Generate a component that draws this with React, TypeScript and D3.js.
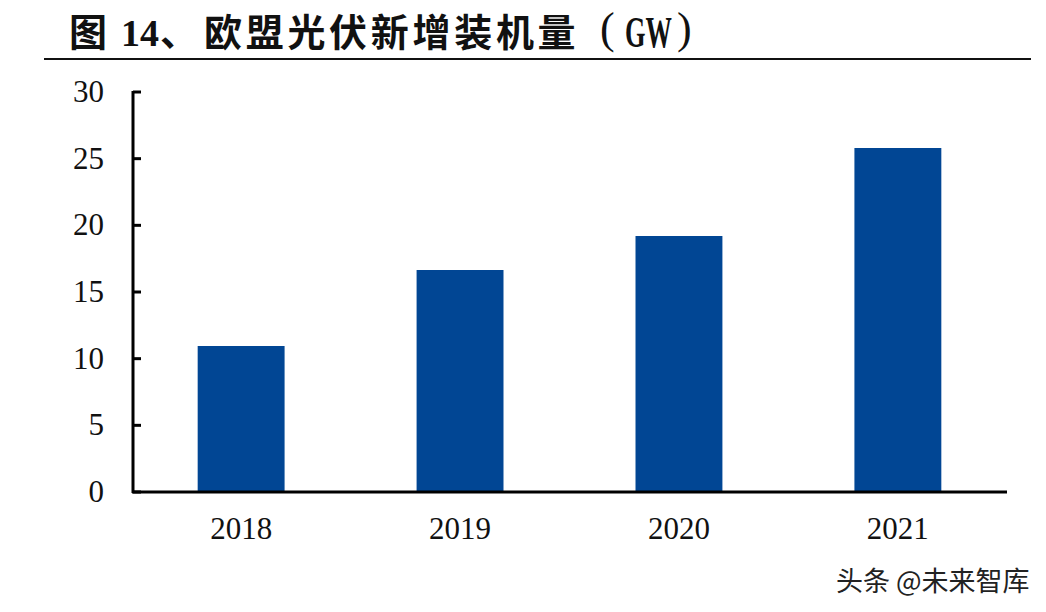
import * as d3 from 'd3';

const years = ['2018', '2019', '2020', '2021'];
const installs = [10.95, 16.65, 19.2, 25.8];
const yTicks = [0, 5, 10, 15, 20, 25, 30];

const WIDTH = 1046;
const HEIGHT = 612;
const margin = { top: 92, right: 39, bottom: 120, left: 132 };

const x = d3.scaleBand<string>()
  .domain(years)
  .range([margin.left, WIDTH - margin.right])
  .paddingInner(0.603)
  .paddingOuter(0.3);

const y = d3.scaleLinear()
  .domain([0, 30])
  .range([HEIGHT - margin.bottom, margin.top]);

const serif = '"Liberation Serif", serif';
const cjk = '"Noto Sans CJK SC", sans-serif';

export default function App() {
  return (
    <svg
      width={WIDTH}
      height={HEIGHT}
      style={{ position: 'absolute', left: 0, top: 0, background: '#fff' }}
    >
      <text x={69} y={46} fontFamily={cjk} fontWeight={700} fontSize={38} fill="#111">图</text>
      <text x={121} y={46} fontFamily={serif} fontWeight={700} fontSize={38} fill="#111">14</text>
      <text x={160} y={46} fontFamily={cjk} fontWeight={700} fontSize={38} fill="#111">、</text>
      <text x={204} y={46} fontFamily={cjk} fontWeight={700} fontSize={38} letterSpacing={3.7} fill="#111">欧盟光伏新增装机量</text>
      <text x={600} y={43} fontFamily={serif} fontSize={44} fill="#111">(</text>
      <g transform="translate(625,47) scale(0.6,1)">
        <text fontFamily={serif} fontWeight={700} fontSize={44} fill="#111">GW</text>
      </g>
      <text x={677} y={43} fontFamily={serif} fontSize={44} fill="#111">)</text>
      <line x1={44} x2={1031} y1={59} y2={59} stroke="#111" strokeWidth={2} />

      {years.map((d, i) => (
        <rect
          key={d}
          x={x(d)}
          y={y(installs[i])}
          width={x.bandwidth()}
          height={y(0) - y(installs[i])}
          fill="#014694"
        />
      ))}

      <line x1={133} x2={133} y1={y(30) - 1} y2={y(0) + 1} stroke="#000" strokeWidth={3} />
      <line x1={132} x2={1007} y1={y(0)} y2={y(0)} stroke="#000" strokeWidth={3} />
      {yTicks.map((t) => (
        <g key={t}>
          <line x1={133} x2={141} y1={y(t)} y2={y(t)} stroke="#000" strokeWidth={3} />
          <text
            x={104}
            y={y(t) - 1}
            dy="0.35em"
            textAnchor="end"
            fontFamily={serif}
            fontSize={31}
            fill="#111"
          >
            {t}
          </text>
        </g>
      ))}
      {years.map((d) => (
        <text
          key={d}
          x={(x(d) ?? 0) + x.bandwidth() / 2}
          y={539}
          textAnchor="middle"
          fontFamily={serif}
          fontSize={31}
          fill="#111"
        >
          {d}
        </text>
      ))}

      <text x={836} y={591} fontFamily={cjk} fontSize={27} fill="#222">头条 @未来智库</text>
    </svg>
  );
}
